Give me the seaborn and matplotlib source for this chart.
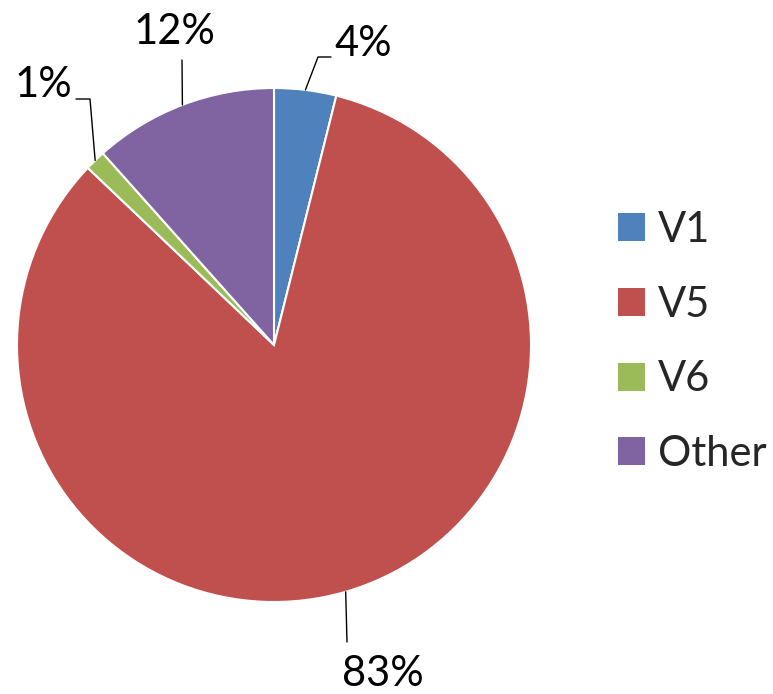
import matplotlib
matplotlib.use("Agg")
import matplotlib.pyplot as plt
import matplotlib.patches as mpatches
import numpy as np
import seaborn as sns

# data
categories = ["V1", "V5", "V6", "Other"]
shares = [3.9, 83.2, 1.3, 11.6]
pct_labels = ["4%", "83%", "1%", "12%"]
colors = ["#4F81BD", "#C0504D", "#9BBB59", "#8064A2"]

sns.set_theme(style="white")
plt.rcParams["font.family"] = ["Lato", "DejaVu Sans"]

W, H = 773, 694
R = 257.0          # pie radius in pixels
CX, CY = 274, 345  # pie centre in pixels (from top)
FS = 30

fig = plt.figure(figsize=(W / 100, H / 100), dpi=100)
ax = fig.add_axes([0, 0, 1, 1])

wedges, _ = ax.pie(
    shares,
    colors=colors,
    startangle=90,
    counterclock=False,
    radius=1.0,
    wedgeprops=dict(edgecolor="white", linewidth=1.5),
)

# pie() resets the limits, so set them afterwards
ax.set_xlim(-CX / R, (W - CX) / R)
ax.set_ylim(-(H - CY) / R, CY / R)
ax.axis("off")


def px(x, y):
    # pixel (from top-left) -> data coordinates
    return (x - CX) / R, (CY - y) / R


# leader line elbow points and text anchors, in pixels
label_layout = {
    "4%": dict(path=[(318, 57), (331, 57)], text=(334, 44), ha="left"),
    "83%": dict(path=[(347, 642)], text=(383, 674), ha="center"),
    "1%": dict(path=[(90, 99), (76, 99)], text=(72, 85), ha="right"),
    "12%": dict(path=[(182, 60)], text=(174, 32), ha="center"),
}

for w, lab in zip(wedges, pct_labels):
    mid = np.deg2rad((w.theta1 + w.theta2) / 2)
    start = (np.cos(mid), np.sin(mid))
    lay = label_layout[lab]
    pts = [start] + [px(*p) for p in lay["path"]]
    xs, ys = zip(*pts)
    ax.plot(xs, ys, color="black", linewidth=1.0)
    tx, ty = px(*lay["text"])
    ax.text(tx, ty, lab, ha=lay["ha"], va="center", fontsize=FS, color="black")

handles = [mpatches.Patch(facecolor=c, edgecolor="none") for c in colors]
fig.legend(
    handles,
    categories,
    loc="center left",
    bbox_to_anchor=(618 / W, 1 - 342 / H),
    frameon=False,
    fontsize=FS,
    handlelength=0.65,
    handleheight=0.65,
    handletextpad=0.31,
    labelspacing=0.88,
    borderpad=0,
    borderaxespad=0,
)

fig.savefig("out.png", dpi=100)
